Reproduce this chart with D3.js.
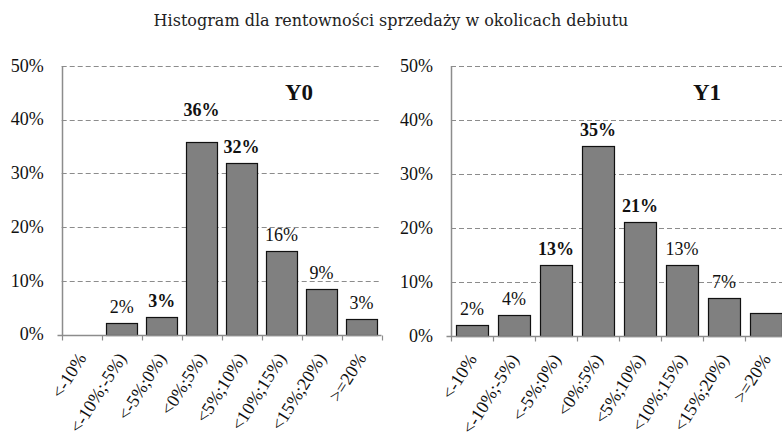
<!DOCTYPE html>
<html>
<head>
	<meta charset="utf-8">
	<script src="https://d3js.org/d3.v7.min.js"></script>
	<style>
		body { margin: 0; background: #fff; }
		svg { display: block; }
		.serif { font-family: "Liberation Serif", "Times New Roman", serif; }
	</style>
</head>
<body>
	<div class="chart"></div>
	<script>
		// data
		var title = "Histogram dla rentowności sprzedaży w okolicach debiutu";
		var categories = ["<-10%", "<-10%;-5%)", "<-5%;0%)", "<0%;5%)", "<5%;10%)", "<10%;15%)", "<15%;20%)", ">=20%"];
		var yTicks = [0, 0.1, 0.2, 0.3, 0.4, 0.5];

		var valuesY0 = [0, 0.021, 0.032, 0.358, 0.319, 0.155, 0.084, 0.028];
		var labelsY0 = ["", "2%", "3%", "36%", "32%", "16%", "9%", "3%"];
		var boldY0 = [false, false, true, true, true, false, false, false];

		var valuesY1 = [0.020, 0.038, 0.131, 0.351, 0.212, 0.131, 0.070, 0.043];
		var labelsY1 = ["2%", "4%", "13%", "35%", "21%", "13%", "7%", ""];
		var boldY1 = [false, false, true, true, true, false, false, false];

		var w = 782, h = 435;
		var svg = d3.select(".chart")
			.append("svg")
			.attr("width", w)
			.attr("height", h);

		svg.append("text")
			.attr("x", 391)
			.attr("y", 26)
			.attr("text-anchor", "middle")
			.style("font-family", "'DejaVu Serif', serif")
			.style("font-size", "16px")
			.attr("fill", "#222")
			.text(title);

		// one panel of the histogram
		function drawPanel(opts) {
			var x = d3.scaleBand()
				.domain(categories)
				.range([opts.left, opts.right])
				.paddingInner(0.23)
				.paddingOuter(0.115);
			var y = d3.scaleLinear()
				.domain([0, 0.5])
				.range([opts.bottom, opts.top]);

			var g = svg.append("g").attr("class", "serif");

			// dashed gridlines
			g.selectAll("line.grid")
				.data(yTicks.filter(function(d) { return d > 0; }))
				.enter()
				.append("line")
				.attr("class", "grid")
				.attr("x1", opts.left)
				.attr("x2", opts.right)
				.attr("y1", function(d) { return Math.round(y(d)) + 0.5; })
				.attr("y2", function(d) { return Math.round(y(d)) + 0.5; })
				.attr("stroke", "#8c8c8c")
				.attr("stroke-width", 1)
				.attr("stroke-dasharray", "5,3");

			// y tick labels
			g.selectAll("text.ytick")
				.data(yTicks)
				.enter()
				.append("text")
				.attr("class", "ytick")
				.attr("x", opts.left - 18)
				.attr("y", function(d) { return y(d); })
				.attr("dy", "0.32em")
				.attr("text-anchor", "end")
				.style("font-size", "18px")
				.attr("fill", "#111")
				.text(d3.format(".0%"));

			// bars
			var vals = opts.values;
			g.selectAll("rect.bar")
				.data(vals)
				.enter()
				.append("rect")
				.attr("class", "bar")
				.attr("x", function(d, i) { return Math.round(x(categories[i])) + 0.5; })
				.attr("y", function(d) { return Math.round(y(d)) + 0.5; })
				.attr("width", Math.round(x.bandwidth()))
				.attr("height", function(d) { return Math.round(y(0)) - Math.round(y(d)); })
				.attr("fill", "#808080")
				.attr("stroke", "#111")
				.attr("stroke-width", 1.2)
				.style("display", function(d) { return d > 0 ? null : "none"; });

			// axes
			var axisY = Math.round(y(0)) + 0.5;
			var axisX = Math.round(opts.left) + 0.5;
			g.append("line")
				.attr("x1", axisX).attr("x2", axisX)
				.attr("y1", opts.top).attr("y2", axisY)
				.attr("stroke", "#8c8c8c").attr("stroke-width", 1.5);
			g.append("line")
				.attr("x1", axisX - 5).attr("x2", opts.right)
				.attr("y1", axisY).attr("y2", axisY)
				.attr("stroke", "#8c8c8c").attr("stroke-width", 1.5);
			var step = x.step();
			g.selectAll("line.xtick")
				.data(d3.range(categories.length + 1))
				.enter()
				.append("line")
				.attr("class", "xtick")
				.attr("x1", function(i) { return Math.round(opts.left + i * step) + 0.5; })
				.attr("x2", function(i) { return Math.round(opts.left + i * step) + 0.5; })
				.attr("y1", axisY)
				.attr("y2", axisY + 5)
				.attr("stroke", "#8c8c8c")
				.attr("stroke-width", 1.2);

			// category labels, rotated
			g.selectAll("text.xlab")
				.data(categories)
				.enter()
				.append("text")
				.attr("class", "xlab")
				.attr("transform", function(d) {
					return "translate(" + (x(d) + x.bandwidth() / 2) + "," + (axisY + 19) + ")rotate(-58)";
				})
				.attr("text-anchor", "end")
				.attr("dy", "0.35em")
				.style("font-size", "18px")
				.attr("fill", "#111")
				.text(function(d) { return d; });

			// value labels
			g.selectAll("text.vlab")
				.data(vals)
				.enter()
				.append("text")
				.attr("class", "vlab")
				.attr("x", function(d, i) { return x(categories[i]) + x.bandwidth() / 2; })
				.attr("y", function(d, i) { return y(d) - 10 + (opts.nudge[i] || 0); })
				.attr("text-anchor", "middle")
				.style("font-size", "18px")
				.style("font-weight", function(d, i) { return opts.bold[i] ? "bold" : "normal"; })
				.attr("fill", "#111")
				.text(function(d, i) { return opts.labels[i]; });

			// panel name
			g.append("text")
				.attr("x", opts.nameX)
				.attr("y", 100)
				.attr("text-anchor", "middle")
				.style("font-size", "23px")
				.style("font-weight", "bold")
				.attr("fill", "#111")
				.text(opts.name);
		}

		drawPanel({
			left: 61.7, right: 381.5, top: 66, bottom: 334.5,
			values: valuesY0, labels: labelsY0, bold: boldY0,
			nudge: {3: -16}, name: "Y0", nameX: 299
		});
		drawPanel({
			left: 451, right: 787, top: 66, bottom: 336,
			values: valuesY1, labels: labelsY1, bold: boldY1,
			nudge: {}, name: "Y1", nameX: 707
		});
	</script>
</body>
</html>
